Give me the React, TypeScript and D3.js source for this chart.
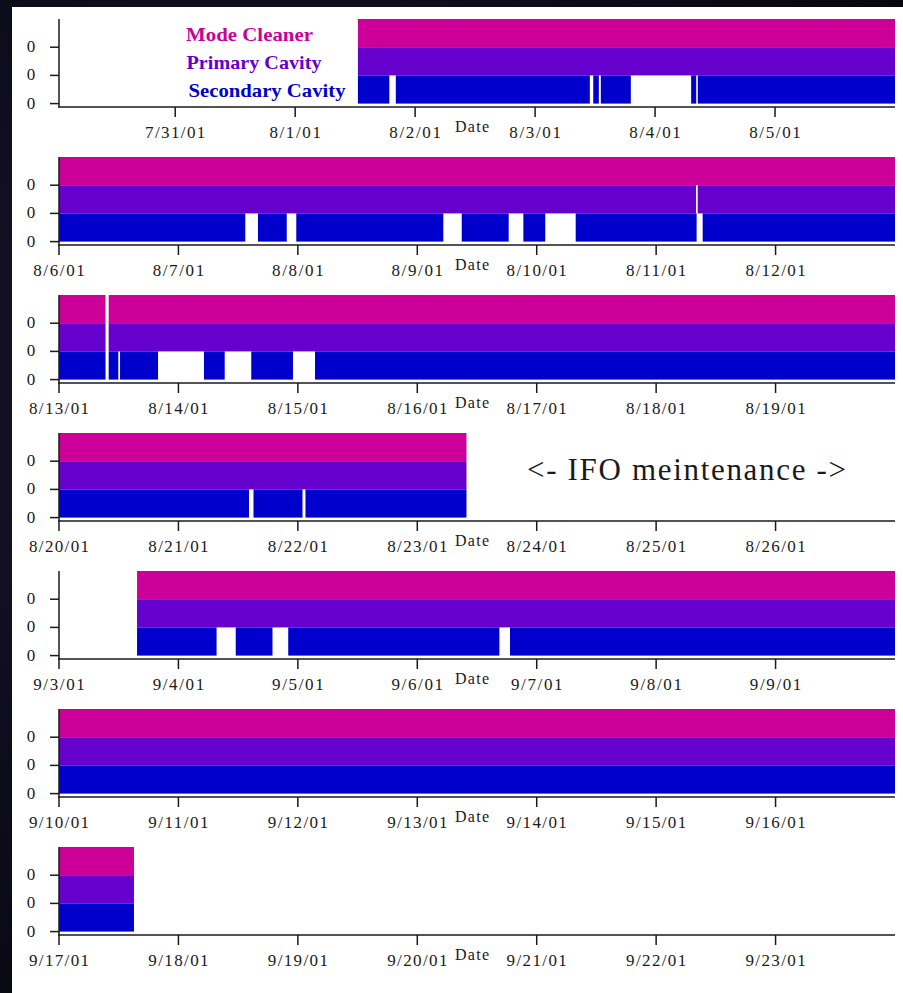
import React from "react";
import * as d3 from "d3";

// ---------- data ----------
const seriesNames = ["Mode Cleaner", "Primary Cavity", "Secondary Cavity"];
const seriesColors = ["#cc0099", "#6600cc", "#0000cc"];

// one panel per week (first one starts a little after midnight)
const panelStarts = [
  "2001-07-30 00:45",
  "2001-08-06 00:00",
  "2001-08-13 00:00",
  "2001-08-20 00:00",
  "2001-09-03 00:00",
  "2001-09-10 00:00",
  "2001-09-17 00:00",
];
const panelEnds = [
  "2001-08-06 00:00",
  "2001-08-13 00:00",
  "2001-08-20 00:00",
  "2001-08-27 00:00",
  "2001-09-10 00:00",
  "2001-09-17 00:00",
  "2001-09-24 00:00",
];

// periods for which data was recorded
const dataCoverage = [
  ["2001-08-01 12:33", "2001-08-06 00:00"],
  ["2001-08-06 00:00", "2001-08-13 00:00"],
  ["2001-08-13 00:00", "2001-08-20 00:00"],
  ["2001-08-20 00:00", "2001-08-23 09:53"],
  ["2001-09-03 15:41", "2001-09-10 00:00"],
  ["2001-09-10 00:00", "2001-09-17 00:00"],
  ["2001-09-17 00:00", "2001-09-17 15:04"],
];

// out-of-lock intervals per series
const modeCleanerGaps = [["2001-08-13 09:21", "2001-08-13 09:59"]];
const primaryCavityGaps = [
  ["2001-08-11 08:01", "2001-08-11 08:21"],
  ["2001-08-13 09:21", "2001-08-13 09:59"],
];
const secondaryCavityGaps = [
  ["2001-08-01 18:50", "2001-08-01 20:08"],
  ["2001-08-03 10:57", "2001-08-03 11:38"],
  ["2001-08-03 12:45", "2001-08-03 13:09"],
  ["2001-08-03 19:09", "2001-08-04 07:13"],
  ["2001-08-04 08:14", "2001-08-04 08:33"],
  ["2001-08-07 13:26", "2001-08-07 15:59"],
  ["2001-08-07 21:46", "2001-08-07 23:41"],
  ["2001-08-09 05:14", "2001-08-09 08:56"],
  ["2001-08-09 18:22", "2001-08-09 21:19"],
  ["2001-08-10 01:43", "2001-08-10 07:50"],
  ["2001-08-11 08:08", "2001-08-11 09:21"],
  ["2001-08-13 09:21", "2001-08-13 09:59"],
  ["2001-08-13 11:55", "2001-08-13 12:16"],
  ["2001-08-13 19:54", "2001-08-14 05:08"],
  ["2001-08-14 09:18", "2001-08-14 14:38"],
  ["2001-08-14 23:01", "2001-08-15 03:27"],
  ["2001-08-21 14:11", "2001-08-21 15:05"],
  ["2001-08-22 00:56", "2001-08-22 01:32"],
  ["2001-09-04 07:40", "2001-09-04 11:31"],
  ["2001-09-04 18:54", "2001-09-04 22:04"],
  ["2001-09-06 16:30", "2001-09-06 18:38"],
];
const seriesGaps = [modeCleanerGaps, primaryCavityGaps, secondaryCavityGaps];

const yTickLabels = ["0", "0", "0"];
const axisTitle = "Date";
const maintenanceNote = "<- IFO meintenance ->";

// ---------- helpers ----------
const parse = d3.timeParse("%Y-%m-%d %H:%M");
const fmt = d3.timeFormat("%-m/%-d/%y");

function lockedSegments(gaps: string[][], s: Date, e: Date): [Date, Date][] {
  const out: [Date, Date][] = [];
  const gs = gaps
    .map((g) => [parse(g[0])!, parse(g[1])!] as [Date, Date])
    .sort((a, b) => +a[0] - +b[0]);
  for (const c of dataCoverage) {
    const lo = new Date(Math.max(+parse(c[0])!, +s));
    const hi = new Date(Math.min(+parse(c[1])!, +e));
    if (+lo >= +hi) continue;
    let cur = lo;
    for (const g of gs) {
      if (+g[1] <= +cur || +g[0] >= +hi) continue;
      if (+g[0] > +cur) out.push([cur, g[0]]);
      if (+g[1] > +cur) cur = g[1];
    }
    if (+cur < +hi) out.push([cur, hi]);
  }
  return out;
}

// ---------- layout ----------
const W = 903;
const H = 993;
const X0 = 59;
const X1 = 895;
const FIRST_TOP = 19;
const PANEL_STEP = 138;
const BAND_H = 28.2;
const AXIS_OFF = 88;
const FONT = "'Liberation Serif', 'Times New Roman', serif";
const INK = "#1a1a1a";

function Panel({ idx }: { idx: number }) {
  const top = FIRST_TOP + idx * PANEL_STEP;
  const s = parse(panelStarts[idx])!;
  const e = parse(panelEnds[idx])!;
  const x = d3.scaleTime().domain([s, e]).range([X0, X1]);
  const y = d3
    .scaleBand<number>()
    .domain([0, 1, 2])
    .range([top, top + 3 * BAND_H])
    .padding(0);
  const axisY = top + AXIS_OFF;
  const ticks = d3.timeDay.range(d3.timeDay.ceil(s), e);

  return (
    <g>
      {/* bands */}
      {seriesNames.map((name, i) =>
        lockedSegments(seriesGaps[i], s, e).map((seg, j) => (
          <rect
            key={name + j}
            x={x(seg[0])}
            y={y(i)!}
            width={Math.max(0, x(seg[1]) - x(seg[0]))}
            height={y.bandwidth()}
            fill={seriesColors[i]}
          />
        ))
      )}
      {/* y axis */}
      <line x1={X0} x2={X0} y1={top} y2={axisY} stroke={INK} strokeWidth={1.5} />
      {yTickLabels.map((lab, i) => {
        const ty = y(i)! + y.bandwidth();
        return (
          <g key={"yt" + i}>
            <line x1={X0 - 9} x2={X0} y1={ty} y2={ty} stroke={INK} strokeWidth={1.5} />
            <text
              x={31}
              y={ty + 5}
              textAnchor="middle"
              fontFamily={FONT}
              fontSize={17}
              fill={INK}
            >
              {lab}
            </text>
          </g>
        );
      })}
      {/* x axis */}
      <line x1={X0 - 1} x2={X1} y1={axisY} y2={axisY} stroke={INK} strokeWidth={1.7} />
      {ticks.map((t, i) => {
        const tx = x(t);
        const lab = fmt(t);
        return (
          <g key={"xt" + i}>
            <line x1={tx} x2={tx} y1={axisY} y2={axisY + 10} stroke={INK} strokeWidth={1.5} />
            <text
              x={tx}
              y={axisY + 31}
              textAnchor="middle"
              fontFamily={FONT}
              fontSize={17}
              fill={INK}
              textLength={lab.length * 8.6}
              lengthAdjust="spacing"
            >
              {lab}
            </text>
          </g>
        );
      })}
      <text
        x={472}
        y={axisY + 25}
        textAnchor="middle"
        fontFamily={FONT}
        fontSize={16}
        fill={INK}
        textLength={34}
        lengthAdjust="spacing"
      >
        {axisTitle}
      </text>
    </g>
  );
}

const legendWidths = [127, 135, 157];
const legendX = [186, 186.5, 188.5];

export default function App() {
  return (
    <svg
      width={W}
      height={H}
      viewBox={`0 0 ${W} ${H}`}
      style={{ position: "absolute", left: 0, top: 0, display: "block" }}
    >
      <defs>
        <radialGradient id="space" cx="0.3" cy="0.4" r="0.9">
          <stop offset="0%" stopColor="#1a1530" />
          <stop offset="60%" stopColor="#0c0b18" />
          <stop offset="100%" stopColor="#05050c" />
        </radialGradient>
      </defs>
      <rect x={0} y={0} width={W} height={H} fill="url(#space)" />
      <rect x={12} y={7} width={W - 12} height={H - 7} fill="#ffffff" />
      {panelStarts.map((_, i) => (
        <Panel key={i} idx={i} />
      ))}
      {/* legend */}
      {seriesNames.map((name, i) => (
        <text
          key={name}
          x={legendX[i]}
          y={FIRST_TOP + (i + 1) * BAND_H - 6.5}
          fontFamily={FONT}
          fontWeight="bold"
          fontSize={19}
          fill={seriesColors[i]}
          textLength={legendWidths[i]}
          lengthAdjust="spacingAndGlyphs"
        >
          {name}
        </text>
      ))}
      {/* maintenance note */}
      <text
        x={527}
        y={FIRST_TOP + 3 * PANEL_STEP + 47}
        fontFamily={FONT}
        fontSize={31}
        fill={INK}
        textLength={319}
        lengthAdjust="spacing"
      >
        {maintenanceNote}
      </text>
    </svg>
  );
}
